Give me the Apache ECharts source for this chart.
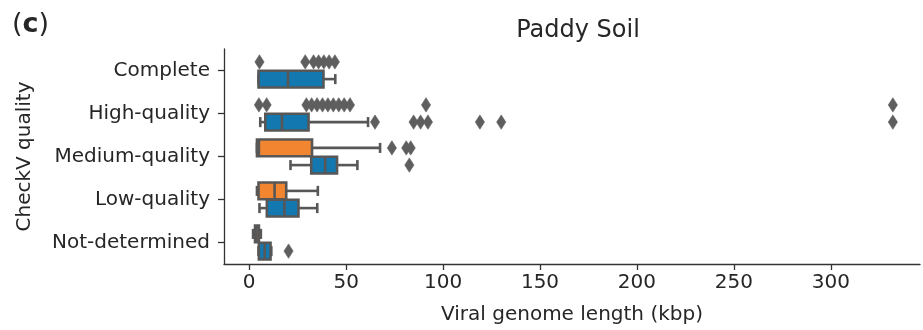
<!DOCTYPE html>
<html>
<head>
<meta charset="utf-8">
<script src="https://cdn.jsdelivr.net/npm/echarts@6/dist/echarts.min.js"></script>
<style>
  html, body { margin: 0; padding: 0; background: #fff; }
  #chart { width: 923px; height: 330px; }
</style>
</head>
<body>
<div id="chart"></div>
<script>
// CheckV quality tiers (top to bottom)
const categories = ['Complete', 'High-quality', 'Medium-quality', 'Low-quality', 'Not-determined'];

// Five-number summaries [min, q1, median, q3, max] in kbp; null = no box for that tier
const orangeBoxes = [
  null,
  null,
  [4.0, 4.0, 5.0, 32.4, 67.5],
  [4.0, 4.8, 13.1, 19.1, 35.4],
  [2.0, 3.0, 3.8, 5.0, 6.0]
];
const blueBoxes = [
  [4.8, 4.8, 20.0, 38.3, 44.4],
  [5.7, 8.3, 16.9, 30.6, 61.3],
  [21.3, 32.0, 39.2, 45.3, 55.8],
  [5.3, 9.1, 18.2, 25.4, 35.1],
  [4.8, 5.0, 8.0, 11.0, 11.4]
];

// Outlying genome lengths (kbp) per tier, upper and lower row of each tier
const orangeOutliers = [
  [5.3, 28.9, 33.2, 35.8, 38.5, 41.2, 44.2],
  [5.0, 9.0, 29.5, 32.2, 35.0, 37.8, 40.6, 43.4, 46.2, 49.0, 52.0, 91.2, 332],
  [73.6, 81.0, 83.3],
  [],
  []
];
const blueOutliers = [
  [],
  [64.9, 84.8, 88.4, 92.2, 119, 130, 332],
  [82.6],
  [],
  [20.3]
];

// Axis ticks
const xTicks = [0, 50, 100, 150, 200, 250, 300];

const ORANGE = '#f28530';
const BLUE = '#1378b0';
const EDGE = '#575757';
const TEXT = '#262626';
const FONT = 'DejaVu Sans';

function boxData(boxes) {
  const out = [];
  boxes.forEach((b, i) => { if (b) out.push([i].concat(b)); });
  return out;
}
function outlierData(lists) {
  const out = [];
  lists.forEach((vals, i) => vals.forEach(v => out.push([i, v])));
  return out;
}

// Draws a seaborn-style box shifted within its category band
function boxRenderer(shift, color) {
  return function (params, api) {
    const cat = api.value(0);
    const band = api.size([0, 1])[1];
    const cy = api.coord([0, cat])[1] + shift * band;
    const h = band * 0.39;
    const cap = h * 0.6;
    const x = k => api.coord([api.value(k), cat])[0];
    const xMin = x(1), xQ1 = x(2), xMed = x(3), xQ3 = x(4), xMax = x(5);
    const ls = { stroke: EDGE, lineWidth: 2.6 };
    return {
      type: 'group',
      children: [
        { type: 'line', shape: { x1: xMin, y1: cy, x2: xQ1, y2: cy }, style: ls },
        { type: 'line', shape: { x1: xQ3, y1: cy, x2: xMax, y2: cy }, style: ls },
        { type: 'line', shape: { x1: xMin, y1: cy - cap / 2, x2: xMin, y2: cy + cap / 2 }, style: ls },
        { type: 'line', shape: { x1: xMax, y1: cy - cap / 2, x2: xMax, y2: cy + cap / 2 }, style: ls },
        { type: 'rect', shape: { x: xQ1, y: cy - h / 2, width: Math.max(xQ3 - xQ1, 0.5), height: h },
          style: { fill: color, stroke: EDGE, lineWidth: 2.6 } },
        { type: 'line', shape: { x1: xMed, y1: cy - h / 2, x2: xMed, y2: cy + h / 2 }, style: ls }
      ]
    };
  };
}

// Thin diamond markers for outliers
function outlierRenderer(shift) {
  return function (params, api) {
    const cat = api.value(0);
    const band = api.size([0, 1])[1];
    const p = api.coord([api.value(1), cat]);
    const cy = p[1] + shift * band;
    const w = 4.6, hh = 7.2;
    return {
      type: 'polygon',
      shape: { points: [[p[0], cy - hh], [p[0] + w, cy], [p[0], cy + hh], [p[0] - w, cy]] },
      style: { fill: '#5e5e5e', stroke: '#5e5e5e', lineWidth: 0.6 }
    };
  };
}

const chart = echarts.init(document.getElementById('chart'), null, { renderer: 'canvas' });

chart.setOption({
  animation: false,
  backgroundColor: '#ffffff',
  textStyle: { fontFamily: FONT },
  title: {
    text: 'Paddy Soil',
    left: 573,
    top: 14,
    textAlign: 'center',
    textStyle: { fontFamily: FONT, fontSize: 24, fontWeight: 'normal', color: TEXT }
  },
  graphic: [{
    type: 'text',
    left: 12,
    top: 11,
    style: {
      text: '({b|c})',
      font: '27px "DejaVu Sans"',
      fill: TEXT,
      rich: { b: { fontWeight: 'bold', fontSize: 27, fontFamily: FONT, fill: TEXT } }
    }
  }],
  grid: { left: 224, right: 3, top: 49, bottom: 64, containLabel: false },
  xAxis: {
    type: 'value',
    min: -13,
    max: 346,
    name: 'Viral genome length (kbp)',
    nameLocation: 'middle',
    nameGap: 41,
    nameTextStyle: { fontFamily: FONT, fontSize: 20, color: TEXT },
    axisLine: { show: true, onZero: false, lineStyle: { color: '#333', width: 1.3 } },
    axisTick: { show: true, length: 6, customValues: xTicks, lineStyle: { color: '#333', width: 1.3 } },
    axisLabel: { customValues: xTicks, fontFamily: FONT, fontSize: 20, color: TEXT, margin: 9 },
    splitLine: { show: false }
  },
  yAxis: {
    type: 'category',
    data: categories,
    inverse: true,
    name: 'CheckV quality',
    nameLocation: 'middle',
    nameGap: 189,
    nameTextStyle: { fontFamily: FONT, fontSize: 20, color: TEXT },
    axisLine: { show: true, onZero: false, lineStyle: { color: '#333', width: 1.3 } },
    axisTick: { show: true, length: 6, alignWithLabel: true, lineStyle: { color: '#333', width: 1.3 } },
    axisLabel: { fontFamily: FONT, fontSize: 20, color: TEXT, margin: 14 },
    splitLine: { show: false }
  },
  series: [
    { type: 'custom', name: 'orange boxes', renderItem: boxRenderer(-0.2, ORANGE),
      data: boxData(orangeBoxes), encode: { x: [1, 2, 3, 4, 5], y: 0 }, z: 2 },
    { type: 'custom', name: 'blue boxes', renderItem: boxRenderer(0.2, BLUE),
      data: boxData(blueBoxes), encode: { x: [1, 2, 3, 4, 5], y: 0 }, z: 2 },
    { type: 'custom', name: 'orange outliers', renderItem: outlierRenderer(-0.2),
      data: outlierData(orangeOutliers), encode: { x: 1, y: 0 }, z: 3 },
    { type: 'custom', name: 'blue outliers', renderItem: outlierRenderer(0.2),
      data: outlierData(blueOutliers), encode: { x: 1, y: 0 }, z: 3 }
  ]
});
</script>
</body>
</html>
